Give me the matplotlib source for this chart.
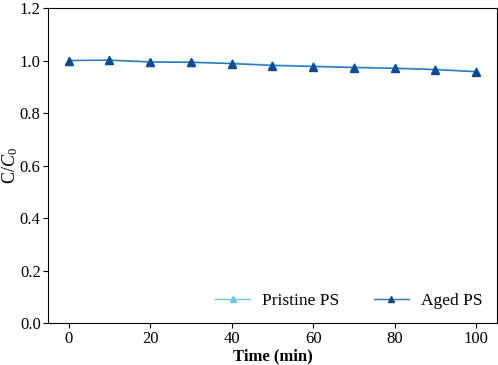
import matplotlib.pyplot as plt

time_min = [0, 10, 20, 30, 40, 50, 60, 70, 80, 90, 100]
pristine_ps = [1.000, 1.002, 0.996, 0.995, 0.990, 0.983, 0.979, 0.975, 0.972, 0.967, 0.959]
aged_ps = [1.000, 1.001, 0.994, 0.993, 0.988, 0.981, 0.977, 0.973, 0.970, 0.965, 0.957]

plt.rcParams['font.family'] = 'Liberation Serif'
plt.rcParams['mathtext.fontset'] = 'custom'
plt.rcParams['mathtext.it'] = 'Liberation Serif:italic'
plt.rcParams['mathtext.rm'] = 'Liberation Serif'

fig = plt.figure(figsize=(4.98, 3.65), dpi=100)
ax = fig.add_axes([0.097, 0.115, 0.9, 0.863])

ax.plot(time_min, pristine_ps, color='#6cc5ea', marker='^', markersize=6,
        linewidth=1, label='Pristine PS')
ax.plot(time_min, aged_ps, color='#2f78c0', marker='^', markersize=6,
        markerfacecolor='#0d4a94', markeredgecolor='#0d4a94',
        linewidth=1, label='Aged PS')

ax.set_xlim(-5, 105)
ax.set_ylim(0, 1.2)
ax.set_xticks([0, 20, 40, 60, 80, 100])
ax.set_yticks([0.0, 0.2, 0.4, 0.6, 0.8, 1.0, 1.2])
ax.tick_params(labelsize=12, length=3.5, pad=2)
ax.set_xlabel('Time (min)', fontsize=12, fontweight='bold', labelpad=1)
ax.set_ylabel('C/$C_0$', fontsize=13, labelpad=0)
ax.legend(loc='lower right', ncol=2, frameon=False, fontsize=12.5,
          handlelength=2.0, handletextpad=0.7, columnspacing=2.0,
          markerscale=0.8, borderaxespad=0.4)

fig.savefig('out.png', dpi=100)
